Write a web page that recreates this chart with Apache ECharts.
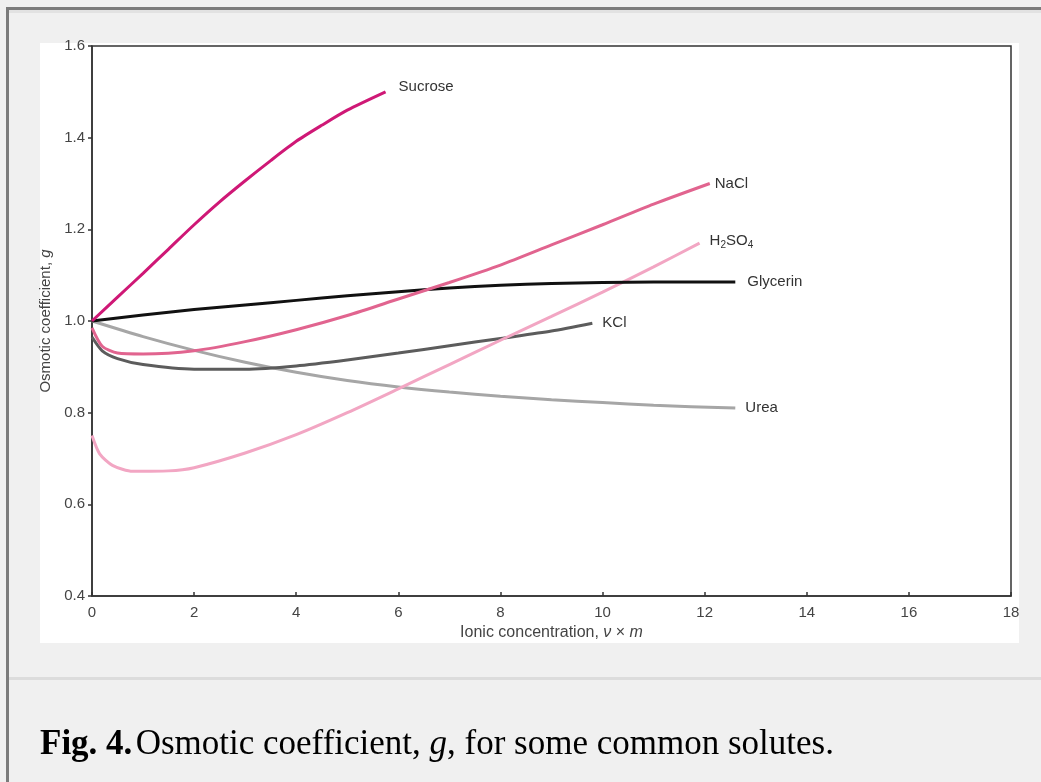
<!DOCTYPE html>
<html>
<head>
<meta charset="utf-8">
<script src="https://cdn.jsdelivr.net/npm/echarts@6/dist/echarts.min.js"></script>
<style>
  html, body { margin: 0; padding: 0; background: #f0f0f0; }
  #chart { width: 1041px; height: 782px; }
</style>
</head>
<body>
<div id="chart"></div>
<script>
// curves, [ionic concentration, osmotic coefficient]
const sucrose = [[0, 1.0], [0.5, 1.052], [1, 1.104], [1.5, 1.157], [2, 1.21], [2.5, 1.26],
  [3, 1.306], [3.5, 1.35], [4, 1.392], [4.5, 1.427], [5, 1.46], [5.75, 1.5]];
const nacl = [[0, 0.985], [0.2, 0.945], [0.5, 0.93], [1, 0.928], [2, 0.935], [3, 0.955],
  [4, 0.981], [5, 1.012], [6, 1.048], [7, 1.084], [8, 1.122], [9, 1.166], [10, 1.21],
  [11, 1.255], [12.1, 1.3]];
const h2so4 = [[0, 0.75], [0.15, 0.71], [0.4, 0.685], [0.8, 0.672], [1.5, 0.673], [2, 0.68],
  [3, 0.712], [4, 0.752], [5, 0.8], [6, 0.852], [7, 0.905], [8, 0.958], [9, 1.01],
  [10, 1.063], [11, 1.118], [11.9, 1.17]];
const glycerin = [[0, 1.0], [1, 1.013], [2, 1.025], [3, 1.035], [4, 1.045], [5, 1.055],
  [6, 1.064], [7, 1.072], [8, 1.078], [9, 1.082], [10, 1.084], [11, 1.085], [12.6, 1.085]];
const kcl = [[0, 0.965], [0.2, 0.935], [0.5, 0.918], [1, 0.905], [2, 0.895], [3, 0.895],
  [4, 0.902], [5, 0.915], [6, 0.93], [7, 0.946], [8, 0.962], [9, 0.978], [9.8, 0.995]];
const urea = [[0, 1.0], [1, 0.966], [2, 0.936], [3, 0.91], [4, 0.888], [5, 0.87], [6, 0.856],
  [7, 0.845], [8, 0.836], [9, 0.828], [10, 0.822], [11, 0.816], [12.6, 0.81]];

const xTicks = [0, 2, 4, 6, 8, 10, 12, 14, 16, 18];
const yTicks = [0.4, 0.6, 0.8, 1.0, 1.2, 1.4, 1.6];

const FONT = 'Liberation Sans';
const SERIF = 'Liberation Serif';

function curve(name, data, color, label, offset) {
  return {
    name: name,
    type: 'line',
    data: data,
    smooth: 0.25,
    showSymbol: false,
    symbol: 'none',
    lineStyle: { color: color, width: 3 },
    endLabel: {
      show: true,
      distance: 10,
      offset: offset || [0, 0],
      color: '#333',
      fontFamily: FONT,
      fontSize: 15,
      formatter: label || name,
      rich: {
        n: { fontFamily: FONT, fontSize: 15, color: '#333', height: 18, lineHeight: 18 },
        s: { fontFamily: FONT, fontSize: 10, color: '#333', lineHeight: 10, padding: [9, 0, 0, 0] }
      }
    }
  };
}

const chart = echarts.init(document.getElementById('chart'));

chart.setOption({
  animation: false,
  backgroundColor: '#f0f0f0',
  graphic: [
    { type: 'rect', z: -10, shape: { x: 40, y: 43, width: 979, height: 600 }, style: { fill: '#ffffff' } },
    { type: 'rect', z: -10, shape: { x: 6, y: 7, width: 1035, height: 3 }, style: { fill: '#7b7b7b' } },
    { type: 'rect', z: -10, shape: { x: 9, y: 10, width: 1032, height: 3 }, style: { fill: '#e2e2e2' } },
    { type: 'rect', z: -10, shape: { x: 6, y: 7, width: 3, height: 775 }, style: { fill: '#7b7b7b' } },
    { type: 'rect', z: -10, shape: { x: 9, y: 677, width: 1032, height: 3 }, style: { fill: '#dcdcdc' } },
    {
      type: 'text', left: 40, top: 727,
      style: {
        text: '{b|Fig. 4.} {n|Osmotic coefficient, }{i|g}{n|, for some common solutes.}',
        rich: {
          b: { fontFamily: SERIF, fontSize: 35, fontWeight: 'bold', fill: '#000' },
          n: { fontFamily: SERIF, fontSize: 35, fill: '#000' },
          i: { fontFamily: SERIF, fontSize: 35, fontStyle: 'italic', fill: '#000' }
        }
      }
    }
  ],
  grid: {
    left: 92, top: 46, right: 30, bottom: 186,
    show: true, borderColor: '#333', borderWidth: 1.5, backgroundColor: 'transparent'
  },
  xAxis: {
    type: 'value',
    min: 0, max: 18, interval: 2,
    name: '{n|Ionic concentration, }{i|ν}{n| × }{i|m}',
    nameLocation: 'middle',
    nameGap: 29,
    nameTextStyle: {
      rich: {
        n: { fontFamily: FONT, fontSize: 16, color: '#444' },
        i: { fontFamily: FONT, fontSize: 16, color: '#444', fontStyle: 'italic' }
      }
    },
    axisLine: { show: true, lineStyle: { color: '#333', width: 1.5 } },
    axisTick: { show: true, inside: true, length: 4, lineStyle: { color: '#333', width: 1.5 } },
    axisLabel: {
      color: '#444', fontFamily: FONT, fontSize: 15, margin: 9,
      customValues: xTicks
    },
    splitLine: { show: false }
  },
  yAxis: {
    type: 'value',
    min: 0.4, max: 1.6, interval: 0.2,
    name: '{n|Osmotic coefficient, }{i|g}',
    nameLocation: 'middle',
    nameGap: 33,
    nameRotate: 90,
    nameTextStyle: {
      rich: {
        n: { fontFamily: FONT, fontSize: 15, color: '#444' },
        i: { fontFamily: FONT, fontSize: 15, color: '#444', fontStyle: 'italic' }
      }
    },
    axisLine: { show: true, lineStyle: { color: '#333', width: 1.5 } },
    axisTick: { show: true, inside: false, length: 4, lineStyle: { color: '#333', width: 1.5 } },
    axisLabel: {
      color: '#444', fontFamily: FONT, fontSize: 15, margin: 7,
      customValues: yTicks,
      formatter: function (v) { return v.toFixed(1); }
    },
    splitLine: { show: false }
  },
  series: [
    curve('Urea', urea, '#a6a6a6'),
    curve('KCl', kcl, '#5c5c5c'),
    curve('H2SO4', h2so4, '#f2a6c3', '{n|H}{s|2}{n|SO}{s|4}', [0, -2]),
    curve('Glycerin', glycerin, '#111111', null, [2, 0]),
    curve('NaCl', nacl, '#e1648f', null, [-5, 0]),
    curve('Sucrose', sucrose, '#cf1876', null, [3, -5])
  ]
});
</script>
</body>
</html>
